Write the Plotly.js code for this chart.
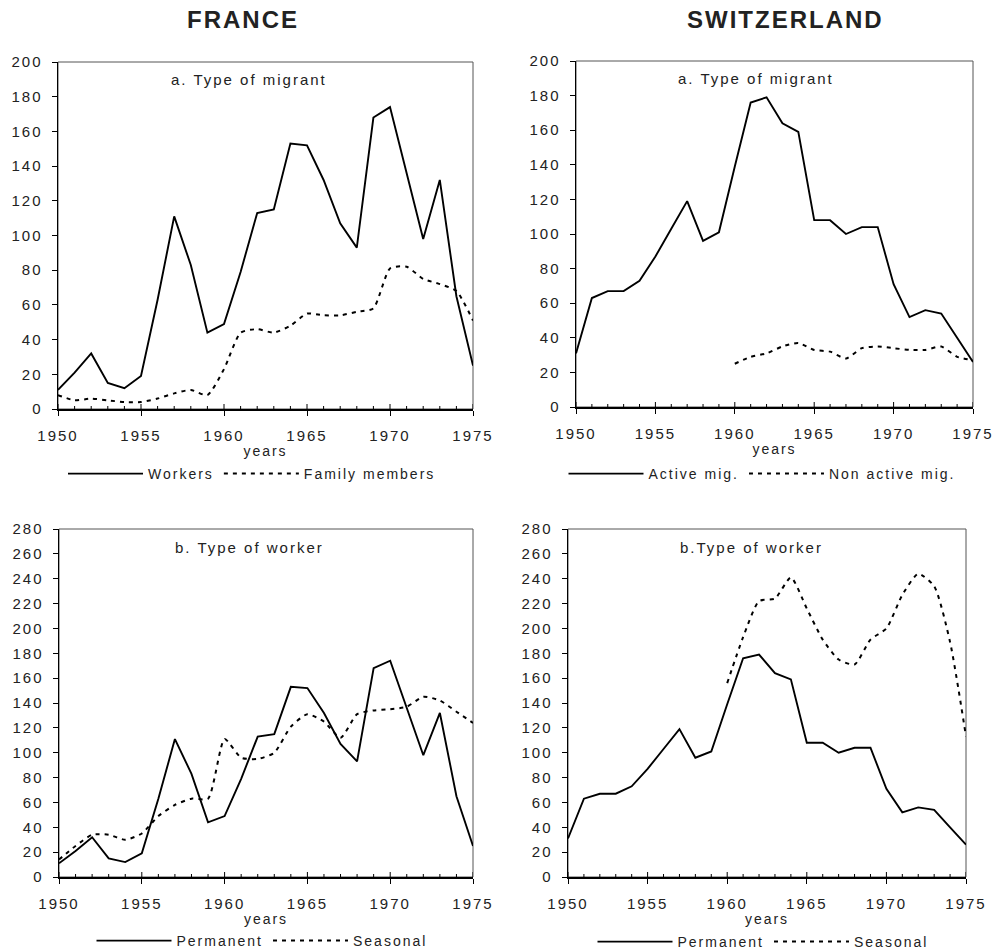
<!DOCTYPE html>
<html>
<head>
<meta charset="utf-8">
<script src="https://cdn.plot.ly/plotly-3.0.1.min.js"></script>
<style>
html,body{margin:0;padding:0;background:#fff;}
svg text{letter-spacing:2px;}
</style>
</head>
<body>
<div id="chart" style="width:994px;height:952px;"></div>
<script>
// ---- data ----
const years = [1950,1951,1952,1953,1954,1955,1956,1957,1958,1959,1960,1961,1962,1963,1964,1965,1966,1967,1968,1969,1970,1971,1972,1973,1974,1975];
const yearsFrom1960 = [1960,1961,1962,1963,1964,1965,1966,1967,1968,1969,1970,1971,1972,1973,1974,1975];
const yearLabels = ['1950','1955','1960','1965','1970','1975'];
const yearLabelVals = [1950,1955,1960,1965,1970,1975];

const franceWorkers = [11,21,32,15,12,19,63,111,83,44,49,79,113,115,153,152,132,107,93,168,174,136,98,132,65,25];
const franceFamily  = [8,5,6,5,4,4,6,9,11,8,23,44,46,44,48,55,54,54,56,58,81,82,75,72,68,51];
const francePermanent = [11,21,32,15,12,19,63,111,83,44,49,79,113,115,153,152,132,107,93,168,174,136,98,132,65,25];
const franceSeasonal  = [14,25,34,34,30,35,49,58,63,63,111,96,95,100,121,131,125,112,131,134,135,137,145,142,133,124];

const swissActive    = [31,63,67,67,73,87,103,119,96,101,139,176,179,164,159,108,108,100,104,104,71,52,56,54,40,26];
const swissNonActive = [25,29,31,35,37,33,32,28,34,35,34,33,33,35,29,27];
const swissPermanent = [31,63,67,67,73,87,103,119,96,101,139,176,179,164,159,108,108,100,104,104,71,52,56,54,40,26];
const swissSeasonal  = [156,193,222,224,241,216,191,175,171,191,200,227,244,234,189,113];

const countryTitles = ['FRANCE','SWITZERLAND'];
const panelTitles = ['a. Type of migrant','a. Type of migrant','b. Type of worker','b.Type of worker'];
const xTitle = 'years';

// ---- layout helpers ----
const W = 994, H = 952;
const px = v => v / W;
const py = v => 1 - v / H;
const FONT = 'Liberation Sans, Arial, sans-serif';
const TXT = '#222';

const solid = {color:'#000', width:1.9};
const dashed = {color:'#000', width:2, dash:'4px,5px', shape:'spline', smoothing:0.6};

const traces = [
  {x:years, y:franceWorkers, name:'Workers', mode:'lines', line:solid, xaxis:'x', yaxis:'y', legend:'legend'},
  {x:years, y:franceFamily, name:'Family members', mode:'lines', line:dashed, xaxis:'x', yaxis:'y', legend:'legend'},
  {x:years, y:swissActive, name:'Active mig.', mode:'lines', line:solid, xaxis:'x2', yaxis:'y2', legend:'legend2'},
  {x:yearsFrom1960, y:swissNonActive, name:'Non active mig.', mode:'lines', line:dashed, xaxis:'x2', yaxis:'y2', legend:'legend2'},
  {x:years, y:francePermanent, name:'Permanent', mode:'lines', line:solid, xaxis:'x3', yaxis:'y3', legend:'legend3'},
  {x:years, y:franceSeasonal, name:'Seasonal', mode:'lines', line:dashed, xaxis:'x3', yaxis:'y3', legend:'legend3'},
  {x:years, y:swissPermanent, name:'Permanent', mode:'lines', line:solid, xaxis:'x4', yaxis:'y4', legend:'legend4'},
  {x:yearsFrom1960, y:swissSeasonal, name:'Seasonal', mode:'lines', line:dashed, xaxis:'x4', yaxis:'y4', legend:'legend4'}
];
traces.forEach(t => { t.hoverinfo = 'skip'; });

const tickFont = {family:FONT, size:15, color:TXT};

function xAxis(domain, anchor) {
  return {
    domain: domain, anchor: anchor, range:[1950,1975],
    tickmode:'array', tickvals:yearLabelVals, ticktext:yearLabels,
    ticks:'outside', ticklen:5, tickwidth:1, tickcolor:'#000',
    showline:true, linecolor:'#000', linewidth:1.5,
    showgrid:false, zeroline:false, tickfont:tickFont, ticklabelstandoff:7,
    title:{text:xTitle, font:{family:FONT, size:14, color:TXT}, standoff:0},
    fixedrange:true
  };
}
function yAxis(domain, anchor, max) {
  return {
    domain: domain, anchor: anchor, range:[0,max],
    tickmode:'linear', tick0:0, dtick:20,
    ticks:'outside', ticklen:5, tickwidth:1, tickcolor:'#000',
    showline:true, linecolor:'#000', linewidth:1.5,
    showgrid:false, zeroline:false, tickfont:tickFont, ticklabelstandoff:6,
    fixedrange:true
  };
}

function frame(xr, yr) {
  return {type:'rect', xref:xr+' domain', yref:yr+' domain', x0:0, x1:1, y0:0, y1:1,
          line:{color:'#555', width:1}, layer:'below'};
}
// crossing year ticks on the x axis line (longer every five years)
function yearTicks(xr, yr) {
  return years.map(v => {
    const len = (v % 5 === 0) ? 5 : 3;
    return {type:'line', xref:xr, yref:yr, x0:v, x1:v, ysizemode:'pixel', yanchor:0,
            y0:-len, y1:len, line:{color:'#000', width:1}, layer:'above'};
  });
}

function legendAt(cx, cy) {
  return {orientation:'h', x:px(cx), y:py(cy), xanchor:'center', yanchor:'middle',
          xref:'paper', yref:'paper', itemwidth:75, bgcolor:'rgba(0,0,0,0)',
          font:{family:FONT, size:14, color:TXT}, traceorder:'normal'};
}

function ann(text, cx, cy, size, bold) {
  return {text: bold ? '<b>'+text+'</b>' : text, xref:'paper', yref:'paper',
          x:px(cx), y:py(cy), xanchor:'center', yanchor:'middle', showarrow:false,
          font:{family:FONT, size:size, color:TXT}};
}

const layout = {
  width:W, height:H, margin:{l:0,r:0,t:0,b:0, autoexpand:false},
  paper_bgcolor:'#fff', plot_bgcolor:'#fff', showlegend:true,
  xaxis:  xAxis([px(58),  px(473)], 'y'),
  yaxis:  yAxis([py(409), py(62)],  'x', 200),
  xaxis2: xAxis([px(576), px(973)], 'y2'),
  yaxis2: yAxis([py(407), py(61)],  'x2', 200),
  xaxis3: xAxis([px(59),  px(473)], 'y3'),
  yaxis3: yAxis([py(877), py(529)], 'x3', 280),
  xaxis4: xAxis([px(568), px(966)], 'y4'),
  yaxis4: yAxis([py(877), py(529)], 'x4', 280),
  shapes:[frame('x','y'), frame('x2','y2'), frame('x3','y3'), frame('x4','y4')]
    .concat(yearTicks('x','y'), yearTicks('x2','y2'), yearTicks('x3','y3'), yearTicks('x4','y4')),
  legend:  legendAt(252, 474),
  legend2: legendAt(762, 474),
  legend3: legendAt(262, 941),
  legend4: legendAt(763, 942),
  annotations:[
    ann(countryTitles[0], 243, 19, 24, true),
    ann(countryTitles[1], 785, 19, 24, true),
    ann(panelTitles[0], 249, 79, 15, false),
    ann(panelTitles[1], 756, 78, 15, false),
    ann(panelTitles[2], 250, 547, 15, false),
    ann(panelTitles[3], 751, 547, 15, false)
  ]
};

Plotly.newPlot('chart', traces, layout, {displayModeBar:false, staticPlot:true});
</script>
</body>
</html>
